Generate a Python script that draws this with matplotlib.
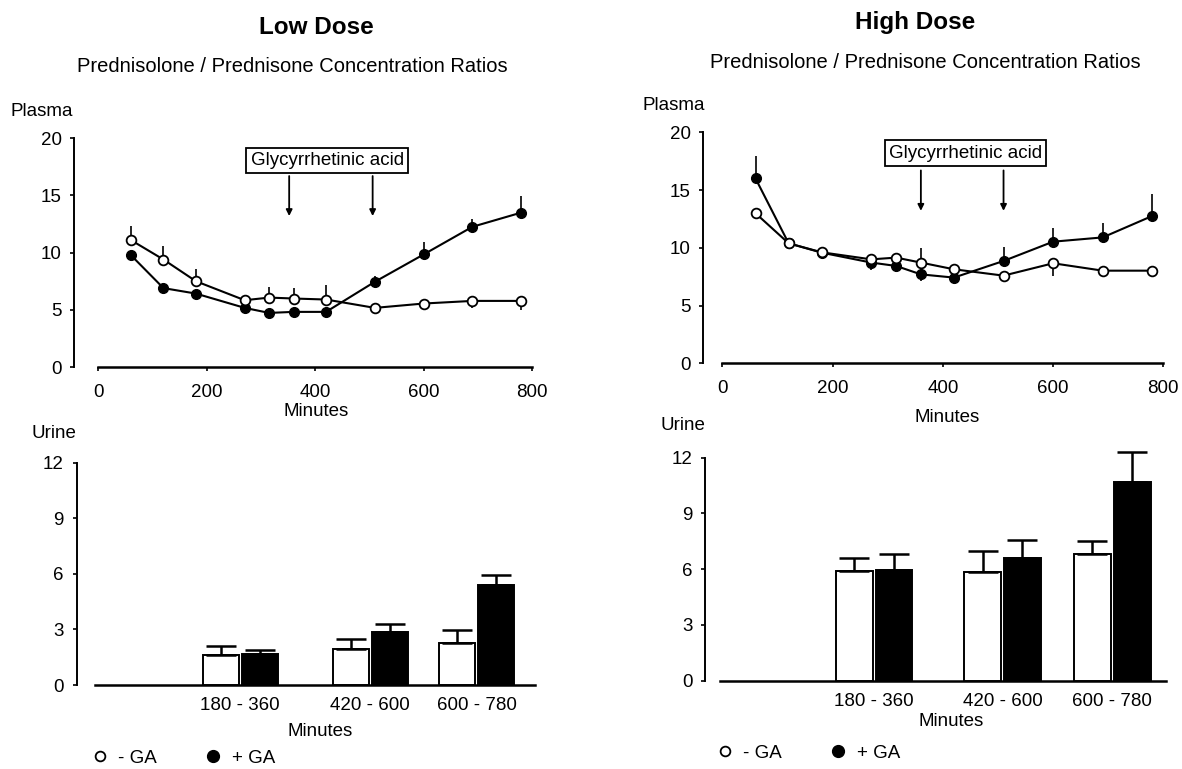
import matplotlib
matplotlib.use("Agg")
import matplotlib.pyplot as plt
import numpy as np
from matplotlib.lines import Line2D
from matplotlib.collections import LineCollection

plt.rcParams['font.family'] = ['Liberation Sans', 'DejaVu Sans']

# ---------------- data ----------------
times = [60, 120, 180, 270, 315, 360, 420, 510, 600, 690, 780]

low_minus = [11.1, 9.4, 7.5, 5.84, 6.07, 5.99, 5.9, 5.17, 5.55, 5.78, 5.78]
low_minus_up = [1.2, 1.2, 1.1, 0.0, 0.9, 0.9, 1.25, 0.0, 0.0, 0.0, 0.0]
low_minus_dn = [0.0, 0.0, 0.0, 0.0, 0.0, 0.0, 0.0, 0.2, 0.5, 0.6, 0.8]
low_plus = [9.78, 6.9, 6.42, 5.17, 4.73, 4.82, 4.82, 7.45, 9.84, 12.26, 13.5]
low_plus_up = [0.0, 0.0, 0.0, 0.0, 0.0, 0.0, 0.0, 0.5, 1.1, 0.7, 1.45]
low_plus_dn = [0.5, 0.4, 0.0, 0.2, 0.0, 0.0, 0.0, 0.0, 0.0, 0.0, 0.0]

high_minus = [12.99, 10.39, 9.61, 9.0, 9.15, 8.72, 8.14, 7.59, 8.66, 8.02, 8.02]
high_minus_up = [0.0, 0.0, 0.0, 0.0, 0.0, 1.24, 0.3, 0.0, 0.0, 0.0, 0.0]
high_minus_dn = [0.0, 0.0, 0.0, 0.0, 0.0, 0.0, 0.0, 0.0, 1.1, 0.5, 0.0]
high_plus = [16.0, 10.39, 9.58, 8.72, 8.43, 7.7, 7.42, 8.86, 10.53, 10.9, 12.76]
high_plus_up = [1.95, 0.0, 0.3, 0.0, 0.0, 0.0, 0.0, 1.24, 1.2, 1.28, 1.87]
high_plus_dn = [0.0, 0.3, 0.0, 0.6, 0.5, 0.6, 0.5, 0.0, 0.0, 0.0, 0.0]

intervals = ["180 - 360", "420 - 600", "600 - 780"]
urine_low_minus = [1.62, 1.94, 2.28]
urine_low_minus_err = [0.48, 0.52, 0.69]
urine_low_plus = [1.66, 2.88, 5.4]
urine_low_plus_err = [0.23, 0.43, 0.54]
urine_high_minus = [5.9, 5.83, 6.8]
urine_high_minus_err = [0.72, 1.17, 0.72]
urine_high_plus = [5.96, 6.58, 10.71]
urine_high_plus_err = [0.84, 0.99, 1.61]

plasma_yticks = [0, 5, 10, 15, 20]
plasma_xticks = [0, 200, 400, 600, 800]
urine_yticks = [0, 3, 6, 9, 12]

# ---------------- layout ----------------
W, H = 1182, 769
fig = plt.figure(figsize=(W / 100, H / 100), dpi=100)


def add_ax(left, right, bottom, top):
    return fig.add_axes([left / W, 1 - bottom / H, (right - left) / W, (bottom - top) / H])


def ftext(x, y, s, **kw):
    fig.text(x / W, 1 - y / H, s, ha='center', va='center', **kw)


FS = 13.5


def unclip(ax):
    for ch in ax.get_children():
        if isinstance(ch, (Line2D, LineCollection)):
            ch.set_clip_on(False)


def plasma(ax, xlim, minus, mup, mdn, plus, pup, pdn, arrows, box):
    ax.set_xlim(*xlim)
    ax.set_ylim(0, 20)
    t = np.array(times)
    for vals, up, dn in ((plus, pup, pdn), (minus, mup, mdn)):
        v = np.array(vals); u = np.array(up); d = np.array(dn)
        m = (u > 0) | (d > 0)
        ax.errorbar(t[m], v[m], yerr=[d[m], u[m]], fmt='none', ecolor='black',
                    elinewidth=1.2, capsize=0, zorder=2)
    ax.plot(t, plus, '-o', color='black', mfc='black', mec='black', ms=7,
            lw=1.5, zorder=3)
    ax.plot(t, minus, '-o', color='black', mfc='white', mec='black', ms=7,
            mew=1.3, lw=1.5, zorder=4)
    for s in ('top', 'right'):
        ax.spines[s].set_visible(False)
    ax.spines['left'].set_bounds(0, 20)
    ax.spines['bottom'].set_bounds(0, 800)
    ax.spines['left'].set_linewidth(1.4)
    ax.spines['bottom'].set_linewidth(1.8)
    ax.set_yticks(plasma_yticks)
    ax.set_xticks(plasma_xticks)
    ax.tick_params(axis='y', length=3, width=1.2, pad=6, labelsize=FS)
    ax.tick_params(axis='x', length=3, width=1.2, pad=9, labelsize=FS)
    ax.patch.set_alpha(0)
    ax.text(box[0], box[1], 'Glycyrrhetinic acid', ha='center', va='center',
            fontsize=FS, zorder=5,
            bbox=dict(boxstyle='square,pad=0.22', fc='white', ec='black', lw=1.3))
    for a in arrows:
        ax.annotate('', xy=(a, 13.2), xytext=(a, 16.7),
                    arrowprops=dict(arrowstyle='-|>', color='black', lw=1.3,
                                    mutation_scale=9, shrinkA=0, shrinkB=0))


def urine(ax, xlim, centers, minus, merr, plus, perr):
    ax.set_xlim(*xlim)
    ax.set_ylim(0, 12)
    x = np.array(centers, dtype=float)
    off, w = 36, 67
    zeros = np.zeros(len(x))
    ek = dict(elinewidth=1.8, capsize=11, capthick=1.8, ecolor='black')
    ax.bar(x - off, minus, w, color='white', edgecolor='black', linewidth=1.4,
           yerr=[zeros, merr], error_kw=ek, zorder=3)
    ax.bar(x + off, plus, w, color='black', edgecolor='black', linewidth=1.4,
           yerr=[zeros, perr], error_kw=ek, zorder=3)
    unclip(ax)
    for s in ('top', 'right'):
        ax.spines[s].set_visible(False)
    ax.spines['left'].set_bounds(0, 12)
    ax.spines['bottom'].set_bounds(-5, 805)
    ax.spines['left'].set_linewidth(1.4)
    ax.spines['bottom'].set_linewidth(1.8)
    ax.set_yticks(urine_yticks)
    ax.set_xticks(x)
    ax.set_xticklabels(intervals)
    ax.tick_params(axis='y', length=3, width=1.2, pad=6, labelsize=FS)
    ax.tick_params(axis='x', length=0, pad=9, labelsize=FS)
    ax.patch.set_alpha(0)


# Low dose plasma
ax1 = add_ax(74, 534.7, 367, 138.3)
plasma(ax1, (-45, 805), low_minus, low_minus_up, low_minus_dn,
       low_plus, low_plus_up, low_plus_dn, arrows=(352, 506), box=(422, 18.05))

# High dose plasma
ax2 = add_ax(703.2, 1166.1, 363.3, 132.3)
plasma(ax2, (-35, 805), high_minus, high_minus_up, high_minus_dn,
       high_plus, high_plus_up, high_plus_dn, arrows=(360, 510), box=(441, 18.2))

# Low dose urine
ax3 = add_ax(76.5, 534.6, 685, 462.7)
urine(ax3, (-40, 805), (262, 502, 698), urine_low_minus, urine_low_minus_err,
      urine_low_plus, urine_low_plus_err)

# High dose urine
ax4 = add_ax(705, 1169, 680.7, 457.7)
urine(ax4, (-32, 810), (275, 508, 707), urine_high_minus, urine_high_minus_err,
      urine_high_plus, urine_high_plus_err)

# Texts
ftext(316, 27, 'Low Dose', fontsize=17.5, fontweight='bold')
ftext(915, 22, 'High Dose', fontsize=17.5, fontweight='bold')
ftext(292, 67, 'Prednisolone / Prednisone Concentration Ratios', fontsize=14.5)
ftext(925, 62, 'Prednisolone / Prednisone Concentration Ratios', fontsize=14.5)
ftext(42, 111, 'Plasma', fontsize=FS)
ftext(674, 105, 'Plasma', fontsize=FS)
ftext(316, 411, 'Minutes', fontsize=FS)
ftext(947, 418, 'Minutes', fontsize=FS)
ftext(54, 434, 'Urine', fontsize=FS)
ftext(683, 426, 'Urine', fontsize=FS)
ftext(320, 731, 'Minutes', fontsize=FS)
ftext(951, 722, 'Minutes', fontsize=FS)

# Legends
h_open = Line2D([], [], ls='none', marker='o', mfc='white', mec='black', ms=7, mew=1.3)
h_fill = Line2D([], [], ls='none', marker='o', mfc='black', mec='black', ms=8.5)
for (x0, y0) in ((92, 758), (717, 753)):
    fig.legend([h_open, h_fill], ['- GA', '+ GA'], ncol=2, frameon=False,
               loc='center left', bbox_to_anchor=(x0 / W, 1 - y0 / H),
               fontsize=FS, handlelength=0.8, handletextpad=0.6,
               columnspacing=2.6, borderpad=0, borderaxespad=0)

fig.savefig('out.png', dpi=100)
